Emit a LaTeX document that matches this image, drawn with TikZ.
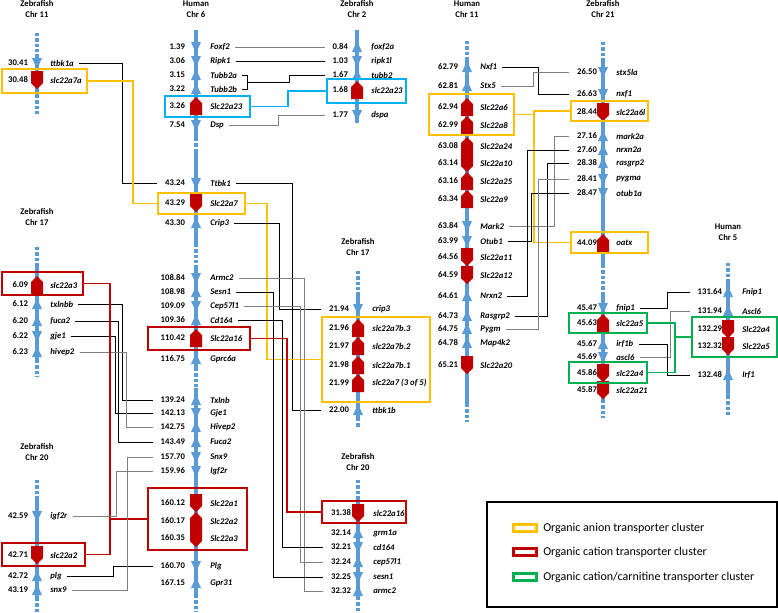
\documentclass[tikz,border=0pt]{standalone}
\usepackage{fontspec}
\setmainfont{Carlito}
\usetikzlibrary{fit}

\definecolor{chromblue}{HTML}{5B9BD5}
\definecolor{genered}{HTML}{C00000}
\definecolor{anionyellow}{HTML}{FFC000}
\definecolor{cationred}{HTML}{C00000}
\definecolor{carngreen}{HTML}{00B050}
\definecolor{clusterblue}{HTML}{00B0F0}
\definecolor{linkgray}{HTML}{7F7F7F}

\tikzset{
    hdr/.style={font=\fontsize{6.5}{8}\selectfont\bfseries, align=center, inner sep=0pt},
    num/.style={font=\fontsize{6.5}{8}\selectfont\bfseries, anchor=east, inner sep=0pt, outer sep=6pt},
    gene/.style={font=\fontsize{6.5}{8}\selectfont\bfseries\itshape, anchor=west, inner sep=0pt, outer sep=4pt},
    chrom/.style={chromblue, line width=2.3pt},
    chromgap/.style={chrom, dash pattern=on 2.5pt off 1.5pt},
    blk/.style={black, line width=0.75pt},
    gry/.style={linkgray, line width=0.75pt},
    cluster/.style={line width=1.5pt, inner sep=0pt},
    anion/.style={cluster, draw=anionyellow},
    cation/.style={cluster, draw=cationred},
    carn/.style={cluster, draw=carngreen},
    bluebox/.style={cluster, draw=clusterblue},
    anionlink/.style={anionyellow, line width=1pt},
    cationlink/.style={cationred, line width=1pt},
    carnlink/.style={carngreen, line width=1pt},
    bluelink/.style={clusterblue, line width=1pt},
    swatch/.style={minimum width=17pt, minimum height=5.5pt, line width=2pt, inner sep=0pt},
    legtxt/.style={font=\fontsize{9}{11}\selectfont, anchor=west, inner sep=0pt},
    bup/.pic={\fill[chromblue] (-5,5) -- (5,5) -- (0,-6) -- cycle;},
    bdn/.pic={\fill[chromblue] (-5,-5) -- (5,-5) -- (0,6) -- cycle;},
    rup/.pic={\fill[genered] (-6,9) -- (6,9) -- (6,-3) -- (0,-9) -- (-6,-3) -- cycle;},
    rdn/.pic={\fill[genered] (-6,-9) -- (6,-9) -- (6,3) -- (0,9) -- (-6,3) -- cycle;}
}

\begin{document}
\begin{tikzpicture}[x=0.75pt, y=-0.75pt]
    \useasboundingbox (0,0) rectangle (778,612);

    \draw[chromgap] (37,33) -- (37,56);
    \draw[chrom] (37,56) -- (37,95);
    \draw[chromgap] (37,95) -- (37,116);
    \draw[chrom] (196,30) -- (196,138);
    \draw[chromgap] (196,138) -- (196,152);
    \draw[chrom] (196,152) -- (196,244);
    \draw[chromgap] (196,244) -- (196,266);
    \draw[chrom] (196,266) -- (196,368);
    \draw[chromgap] (196,368) -- (196,388);
    \draw[chrom] (196,388) -- (196,595);
    \draw[chromgap] (196,595) -- (196,612);
    \draw[chrom] (357,30) -- (357,123);
    \draw[chromgap] (467,41) -- (467,57);
    \draw[chrom] (467,57) -- (467,404);
    \draw[chromgap] (467,404) -- (467,422);
    \draw[chromgap] (603,42) -- (603,60);
    \draw[chrom] (603,60) -- (603,265);
    \draw[chromgap] (603,265) -- (603,292);
    \draw[chrom] (603,292) -- (603,400);
    \draw[chromgap] (603,400) -- (603,418);
    \draw[chromgap] (728,263) -- (728,282);
    \draw[chrom] (728,282) -- (728,396);
    \draw[chromgap] (728,396) -- (728,417);
    \draw[chromgap] (37,247) -- (37,266);
    \draw[chrom] (37,266) -- (37,360);
    \draw[chromgap] (37,360) -- (37,377);
    \draw[chromgap] (37,480) -- (37,498);
    \draw[chrom] (37,498) -- (37,598);
    \draw[chromgap] (37,598) -- (37,612);
    \draw[chromgap] (358,271) -- (358,294);
    \draw[chrom] (358,294) -- (358,418);
    \draw[chromgap] (358,418) -- (358,427);
    \draw[chromgap] (358,480) -- (358,498);
    \draw[chrom] (358,498) -- (358,597);
    \draw[chromgap] (358,597) -- (358,612);

    \foreach \x/\y in {37/63, 196/47, 196/61, 196/125, 196/183, 196/278, 196/306, 196/413, 196/457, 196/471, 196/566, 357/61, 357/115, 467/226, 467/241, 603/72, 603/94, 603/179, 603/193, 603/308, 603/357, 37/336, 37/516, 358/309, 358/547, 358/577}
        \pic at (\x,\y) {bdn};
    \foreach \x/\y in {196/75, 196/89, 196/223, 196/292, 196/320, 196/359, 196/400, 196/427, 196/442, 196/583, 357/47, 357/75, 467/67, 467/86, 467/296, 467/316, 467/329, 467/343, 603/136, 603/150, 603/163, 603/344, 37/304, 37/321, 37/352, 37/576, 37/590, 358/410, 358/533, 358/562, 358/591, 728/292, 728/311, 728/375}
        \pic at (\x,\y) {bup};
    \foreach \x/\y in {196/106, 196/338, 196/521, 357/90, 467/107, 467/125, 467/146, 467/181, 467/199, 603/243, 603/323, 37/285, 358/328, 358/346, 358/365, 358/383}
        \pic at (\x,\y) {rup};
    \foreach \x/\y in {37/80, 196/203, 196/503, 196/538, 467/163, 467/257, 467/275, 467/365, 603/112, 603/373, 603/390, 37/555, 358/513, 728/329, 728/346}
        \pic at (\x,\y) {rdn};

    \node[anion, fit={(2,69) (87,93)}] (bxZ11) {};
    \node[bluebox, fit={(165,96) (250,117)}] (bxH6a) {};
    \node[bluebox, fit={(327,79) (406,103)}] (bxZ2) {};
    \node[anion, fit={(158,193) (245,214)}] (bxH6b) {};
    \node[cation, fit={(148,327) (250,350)}] (bxH6d) {};
    \node[cation, fit={(148,488) (247,550)}] (bxH6c) {};
    \node[cation, fit={(2,272) (83,295)}] (bxZ17a) {};
    \node[cation, fit={(2,543) (85,566)}] (bxZ20a) {};
    \node[anion, fit={(322,317) (430,402)}] (bxZ17b) {};
    \node[cation, fit={(322,501) (406,523)}] (bxZ20b) {};
    \node[anion, fit={(429,94) (514,135)}] (bxH11) {};
    \node[anion, fit={(571,101) (648,121)}] (bxZ21a) {};
    \node[anion, fit={(571,232) (648,253)}] (bxZ21b) {};
    \node[carn, fit={(569,313) (647,333)}] (bxZ21c) {};
    \node[carn, fit={(569,362) (647,383)}] (bxZ21d) {};
    \node[carn, fit={(692,317) (777,357)}] (bxH5) {};

    \node[hdr] (hZ11) at (37,9) {Zebrafish\\Chr 11};
    \node[num] (nttbk1a) at (36,63) {30.41};
    \node[gene] (ttbk1a) at (45,63) {ttbk1a};
    \node[num] (nslc22a7a) at (36,80) {30.48};
    \node[gene] (slc22a7a) at (45,80) {slc22a7a};

    \node[hdr] (hH6) at (196,9) {Human\\Chr 6};
    \node[num] (nFoxf2) at (193,47) {1.39};
    \node[gene] (Foxf2) at (205,47) {Foxf2};
    \node[num] (nRipk1) at (193,61) {3.06};
    \node[gene] (Ripk1) at (205,61) {Ripk1};
    \node[num] (nTubb2a) at (193,75) {3.15};
    \node[gene] (Tubb2a) at (205,75) {Tubb2a};
    \node[num] (nTubb2b) at (193,89) {3.22};
    \node[gene] (Tubb2b) at (205,89) {Tubb2b};
    \node[num] (nSlc22a23) at (193,106) {3.26};
    \node[gene] (Slc22a23) at (205,106) {Slc22a23};
    \node[num] (nDsp) at (193,125) {7.54};
    \node[gene] (Dsp) at (205,125) {Dsp};
    \node[num] (nTtbk1) at (193,183) {43.24};
    \node[gene] (Ttbk1) at (205,183) {Ttbk1};
    \node[num] (nSlc22a7) at (193,203) {43.29};
    \node[gene] (Slc22a7) at (205,203) {Slc22a7};
    \node[num] (nCrip3) at (193,223) {43.30};
    \node[gene] (Crip3) at (205,223) {Crip3};
    \node[num] (nArmc2) at (193,278) {108.84};
    \node[gene] (Armc2) at (205,278) {Armc2};
    \node[num] (nSesn1) at (193,292) {108.98};
    \node[gene] (Sesn1) at (205,292) {Sesn1};
    \node[num] (nCep57l1) at (193,306) {109.09};
    \node[gene] (Cep57l1) at (205,306) {Cep57l1};
    \node[num] (nCd164) at (193,320) {109.36};
    \node[gene] (Cd164) at (205,320) {Cd164};
    \node[num] (nSlc22a16) at (193,338) {110.42};
    \node[gene] (Slc22a16) at (205,338) {Slc22a16};
    \node[num] (nGprc6a) at (193,359) {116.75};
    \node[gene] (Gprc6a) at (205,359) {Gprc6a};
    \node[num] (nTxlnb) at (193,400) {139.24};
    \node[gene] (Txlnb) at (205,400) {Txlnb};
    \node[num] (nGje1) at (193,413) {142.13};
    \node[gene] (Gje1) at (205,413) {Gje1};
    \node[num] (nHivep2) at (193,427) {142.75};
    \node[gene] (Hivep2) at (205,427) {Hivep2};
    \node[num] (nFuca2) at (193,442) {143.49};
    \node[gene] (Fuca2) at (205,442) {Fuca2};
    \node[num] (nSnx9) at (193,457) {157.70};
    \node[gene] (Snx9) at (205,457) {Snx9};
    \node[num] (nIgf2r) at (193,471) {159.96};
    \node[gene] (Igf2r) at (205,471) {Igf2r};
    \node[num] (nSlc22a1) at (193,503) {160.12};
    \node[gene] (Slc22a1) at (205,503) {Slc22a1};
    \node[num] (nSlc22a2) at (193,521) {160.17};
    \node[gene] (Slc22a2) at (205,521) {Slc22a2};
    \node[num] (nSlc22a3) at (193,538) {160.35};
    \node[gene] (Slc22a3) at (205,538) {Slc22a3};
    \node[num] (nPlg) at (193,566) {160.70};
    \node[gene] (Plg) at (205,566) {Plg};
    \node[num] (nGpr31) at (193,583) {167.15};
    \node[gene] (Gpr31) at (205,583) {Gpr31};

    \node[hdr] (hZ2) at (357,9) {Zebrafish\\Chr 2};
    \node[num] (nfoxf2a) at (356,47) {0.84};
    \node[gene] (foxf2a) at (366,47) {foxf2a};
    \node[num] (nripk1l) at (356,61) {1.03};
    \node[gene] (ripk1l) at (366,61) {ripk1l};
    \node[num] (ntubb2) at (356,75) {1.67};
    \node[gene] (tubb2) at (366,75) {tubb2};
    \node[num] (nslc22a23) at (356,90) {1.68};
    \node[gene] (slc22a23) at (366,90) {slc22a23};
    \node[num] (ndspa) at (356,115) {1.77};
    \node[gene] (dspa) at (366,115) {dspa};

    \node[hdr] (hH11) at (467,9) {Human\\Chr 11};
    \node[num] (nNxf1) at (466,67) {62.79};
    \node[gene] (Nxf1) at (475,67) {Nxf1};
    \node[num] (nStx5) at (466,86) {62.81};
    \node[gene] (Stx5) at (475,86) {Stx5};
    \node[num] (nSlc22a6) at (466,107) {62.94};
    \node[gene] (Slc22a6) at (475,107) {Slc22a6};
    \node[num] (nSlc22a8) at (466,125) {62.99};
    \node[gene] (Slc22a8) at (475,125) {Slc22a8};
    \node[num] (nSlc22a24) at (466,146) {63.08};
    \node[gene] (Slc22a24) at (475,146) {Slc22a24};
    \node[num] (nSlc22a10) at (466,163) {63.14};
    \node[gene] (Slc22a10) at (475,163) {Slc22a10};
    \node[num] (nSlc22a25) at (466,181) {63.16};
    \node[gene] (Slc22a25) at (475,181) {Slc22a25};
    \node[num] (nSlc22a9) at (466,199) {63.34};
    \node[gene] (Slc22a9) at (475,199) {Slc22a9};
    \node[num] (nMark2) at (466,226) {63.84};
    \node[gene] (Mark2) at (475,226) {Mark2};
    \node[num] (nOtub1) at (466,241) {63.99};
    \node[gene] (Otub1) at (475,241) {Otub1};
    \node[num] (nSlc22a11) at (466,257) {64.56};
    \node[gene] (Slc22a11) at (475,257) {Slc22a11};
    \node[num] (nSlc22a12) at (466,275) {64.59};
    \node[gene] (Slc22a12) at (475,275) {Slc22a12};
    \node[num] (nNrxn2) at (466,296) {64.61};
    \node[gene] (Nrxn2) at (475,296) {Nrxn2};
    \node[num] (nRasgrp2) at (466,316) {64.73};
    \node[gene] (Rasgrp2) at (475,316) {Rasgrp2};
    \node[num] (nPygm) at (466,329) {64.75};
    \node[gene] (Pygm) at (475,329) {Pygm};
    \node[num] (nMap4k2) at (466,343) {64.78};
    \node[gene] (Map4k2) at (475,343) {Map4k2};
    \node[num] (nSlc22a20) at (466,365) {65.21};
    \node[gene] (Slc22a20) at (475,365) {Slc22a20};

    \node[hdr] (hZ21) at (603,9) {Zebrafish\\Chr 21};
    \node[num] (nstx5la) at (605,72) {26.50};
    \node[gene] (stx5la) at (611,72) {stx5la};
    \node[num] (nnxf1) at (605,94) {26.63};
    \node[gene] (nxf1) at (611,94) {nxf1};
    \node[num] (nslc22a6l) at (605,112) {28.44};
    \node[gene] (slc22a6l) at (611,112) {slc22a6l};
    \node[num] (nmark2a) at (605,136) {27.16};
    \node[gene] (mark2a) at (611,136) {mark2a};
    \node[num] (nnrxn2a) at (605,150) {27.60};
    \node[gene] (nrxn2a) at (611,150) {nrxn2a};
    \node[num] (nrasgrp2) at (605,163) {28.38};
    \node[gene] (rasgrp2) at (611,163) {rasgrp2};
    \node[num] (npygma) at (605,179) {28.41};
    \node[gene] (pygma) at (611,179) {pygma};
    \node[num] (notub1a) at (605,193) {28.47};
    \node[gene] (otub1a) at (611,193) {otub1a};
    \node[num] (noatx) at (605,243) {44.09};
    \node[gene] (oatx) at (611,243) {oatx};
    \node[num] (nfnip1) at (605,308) {45.47};
    \node[gene] (fnip1) at (611,308) {fnip1};
    \node[num] (nslc22a5) at (605,323) {45.63};
    \node[gene] (slc22a5) at (611,323) {slc22a5};
    \node[num] (nirf1b) at (605,344) {45.67};
    \node[gene] (irf1b) at (611,344) {irf1b};
    \node[num] (nascl6) at (605,357) {45.69};
    \node[gene] (ascl6) at (611,357) {ascl6};
    \node[num] (nslc22a4) at (605,373) {45.86};
    \node[gene] (slc22a4) at (611,373) {slc22a4};
    \node[num] (nslc22a21) at (605,390) {45.87};
    \node[gene] (slc22a21) at (611,390) {slc22a21};

    \node[hdr] (hH5) at (728,232) {Human\\Chr 5};
    \node[num] (nFnip1) at (730,292) {131.64};
    \node[gene] (Fnip1) at (737,292) {Fnip1};
    \node[num] (nAscl6) at (730,311) {131.94};
    \node[gene] (Ascl6) at (737,311) {Ascl6};
    \node[num] (nSlc22a4) at (730,329) {132.29};
    \node[gene] (Slc22a4) at (737,329) {Slc22a4};
    \node[num] (nSlc22a5) at (730,346) {132.32};
    \node[gene] (Slc22a5) at (737,346) {Slc22a5};
    \node[num] (nIrf1) at (730,375) {132.48};
    \node[gene] (Irf1) at (737,375) {Irf1};

    \node[hdr] (hZ17a) at (37,217) {Zebrafish\\Chr 17};
    \node[num] (nslc22a3) at (36,285) {6.09};
    \node[gene] (slc22a3) at (45,285) {slc22a3};
    \node[num] (ntxlnbb) at (36,304) {6.12};
    \node[gene] (txlnbb) at (45,304) {txlnbb};
    \node[num] (nfuca2) at (36,321) {6.20};
    \node[gene] (fuca2) at (45,321) {fuca2};
    \node[num] (ngje1) at (36,336) {6.22};
    \node[gene] (gje1) at (45,336) {gje1};
    \node[num] (nhivep2) at (36,352) {6.23};
    \node[gene] (hivep2) at (45,352) {hivep2};

    \node[hdr] (hZ20a) at (37,452) {Zebrafish\\Chr 20};
    \node[num] (nigf2r) at (36,516) {42.59};
    \node[gene] (igf2r) at (45,516) {igf2r};
    \node[num] (nslc22a2) at (36,555) {42.71};
    \node[gene] (slc22a2) at (45,555) {slc22a2};
    \node[num] (nplg) at (36,576) {42.72};
    \node[gene] (plg) at (45,576) {plg};
    \node[num] (nsnx9) at (36,590) {43.19};
    \node[gene] (snx9) at (45,590) {snx9};

    \node[hdr] (hZ17b) at (358,247) {Zebrafish\\Chr 17};
    \node[num] (ncrip3) at (357,309) {21.94};
    \node[gene] (crip3) at (367,309) {crip3};
    \node[num] (nslc22a7b3) at (357,328) {21.96};
    \node[gene] (slc22a7b3) at (367,328) {slc22a7b.3};
    \node[num] (nslc22a7b2) at (357,346) {21.97};
    \node[gene] (slc22a7b2) at (367,346) {slc22a7b.2};
    \node[num] (nslc22a7b1) at (357,365) {21.98};
    \node[gene] (slc22a7b1) at (367,365) {slc22a7b.1};
    \node[num] (nslc22a7x) at (357,383) {21.99};
    \node[gene] (slc22a7x) at (367,383) {slc22a7 (3 of 5)};
    \node[num] (nttbk1b) at (357,410) {22.00};
    \node[gene] (ttbk1b) at (367,410) {ttbk1b};

    \node[hdr] (hZ20b) at (358,462) {Zebrafish\\Chr 20};
    \node[num] (nslc22a16) at (359,513) {31.38};
    \node[gene] (slc22a16) at (368,513) {slc22a16};
    \node[num] (ngrm1a) at (359,533) {32.14};
    \node[gene] (grm1a) at (368,533) {grm1a};
    \node[num] (ncd164) at (359,547) {32.21};
    \node[gene] (cd164) at (368,547) {cd164};
    \node[num] (ncep57l1) at (359,562) {32.24};
    \node[gene] (cep57l1) at (368,562) {cep57l1};
    \node[num] (nsesn1) at (359,577) {32.25};
    \node[gene] (sesn1) at (368,577) {sesn1};
    \node[num] (narmc2) at (359,591) {32.32};
    \node[gene] (armc2) at (368,591) {armc2};

    \draw[gry] (Foxf2.east) -- (nfoxf2a.west);
    \draw[blk] (Ripk1.east) -- (nripk1l.west);
    \draw[blk] (Tubb2a.east) -| (247,0 |- Tubb2b.east) -- (Tubb2b.east);
    \coordinate (tbm) at (247,82);
    \draw[blk] (tbm) -| (289,0 |- ntubb2.west) -- (ntubb2.west);
    \draw[bluelink] (bxH6a.east) -| (288,0 |- bxZ2.west) -- (bxZ2.west);
    \draw[gry] (Dsp.east) -| (278,0 |- ndspa.west) -- (ndspa.west);
    \draw[blk] (ttbk1a.east) -| (122,0 |- nTtbk1.west) -- (nTtbk1.west);
    \draw[anionlink] (bxZ11.east) -| (133,0 |- bxH6b.west) -- (bxH6b.west);
    \draw[blk] (Ttbk1.east) -| (292,0 |- nttbk1b.west) -- (nttbk1b.west);
    \draw[anionlink] (bxH6b.east) -| (267,0 |- bxZ17b.west) -- (bxZ17b.west);
    \draw[blk] (Crip3.east) -| (279,0 |- ncrip3.west) -- (ncrip3.west);
    \draw[gry] (Armc2.east) -| (304,0 |- narmc2.west) -- (narmc2.west);
    \draw[blk] (Sesn1.east) -| (273,0 |- nsesn1.west) -- (nsesn1.west);
    \draw[gry] (Cep57l1.east) -| (300,0 |- ncep57l1.west) -- (ncep57l1.west);
    \draw[blk] (Cd164.east) -| (282,0 |- ncd164.west) -- (ncd164.west);
    \draw[cationlink] (bxH6d.east) -| (287,0 |- bxZ20b.west) -- (bxZ20b.west);

    \draw[blk] (txlnbb.east) -| (122,0 |- nTxlnb.west) -- (nTxlnb.west);
    \draw[blk] (fuca2.east) -| (118,0 |- nFuca2.west) -- (nFuca2.west);
    \draw[blk] (gje1.east) -| (115,0 |- nGje1.west) -- (nGje1.west);
    \draw[gry] (hivep2.east) -| (126,0 |- nHivep2.west) -- (nHivep2.west);
    \draw[cationlink] (bxZ17a.east) -| (110,0 |- bxH6c.west) -- (bxH6c.west);
    \draw[cationlink] (bxZ20a.east) -| (110,0 |- bxH6c.west);
    \draw[gry] (igf2r.east) -| (116,0 |- nIgf2r.west) -- (nIgf2r.west);
    \draw[blk] (plg.east) -| (113,0 |- nPlg.west) -- (nPlg.west);
    \draw[gry] (snx9.east) -| (127,0 |- nSnx9.west) -- (nSnx9.west);

    \draw[blk] (Nxf1.east) -| (538,0 |- nnxf1.west) -- (nnxf1.west);
    \draw[gry] (Stx5.east) -| (533,0 |- nstx5la.west) -- (nstx5la.west);
    \draw[anionlink] (bxH11.east) -| (534,0 |- bxZ21a.west) -- (bxZ21a.west);
    \draw[anionlink] (bxH11.east) -| (534,0 |- bxZ21b.west) -- (bxZ21b.west);
    \draw[gry] (Mark2.east) -| (554,0 |- nmark2a.west) -- (nmark2a.west);
    \draw[blk] (Otub1.east) -| (531,0 |- notub1a.west) -- (notub1a.west);
    \draw[blk] (Nrxn2.east) -| (527,0 |- nnrxn2a.west) -- (nnrxn2a.west);
    \draw[blk] (Rasgrp2.east) -| (547,0 |- nrasgrp2.west) -- (nrasgrp2.west);
    \draw[gry] (Pygm.east) -| (538,0 |- npygma.west) -- (npygma.west);

    \draw[blk] (fnip1.east) -| (667,0 |- nFnip1.west) -- (nFnip1.west);
    \draw[gry] (ascl6.east) -| (670,0 |- nAscl6.west) -- (nAscl6.west);
    \draw[blk] (irf1b.east) -| (667,0 |- nIrf1.west) -- (nIrf1.west);
    \draw[carnlink] (bxZ21c.east) -| (675,0 |- bxZ21d.east) -- (bxZ21d.east);
    \coordinate (gj) at (675,0 |- bxH5.west);
    \draw[carnlink] (gj) -- (bxH5.west);

    \node[draw, line width=0.8pt, inner sep=0pt, fit={(487,502) (777,607)}] (legend) {};
    \node[swatch, draw=anionyellow] (swA) at (525,528) {};
    \node[legtxt] (legA) at (543,528) {Organic anion transporter cluster};
    \node[swatch, draw=cationred] (swB) at (525,552) {};
    \node[legtxt] (legB) at (543,552) {Organic cation transporter cluster};
    \node[swatch, draw=carngreen] (swC) at (525,577) {};
    \node[legtxt] (legC) at (543,577) {Organic cation/carnitine transporter cluster};
\end{tikzpicture}
\end{document}
